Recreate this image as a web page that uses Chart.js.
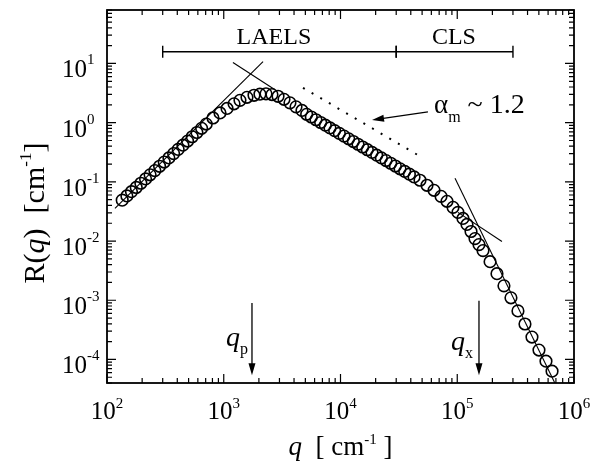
<!DOCTYPE html>
<html lang="en">
<head>
<meta charset="UTF-8">
<title>R(q) vs q</title>
<script src="https://cdn.jsdelivr.net/npm/chart.js"></script>
<style>
  body { margin: 0; background: #fff; }
</style>
</head>
<body>
<canvas id="chart" width="603" height="464"></canvas>
<script>
// measured points, q in cm^-1, R(q) in cm^-1
const qValues = [135, 148, 162, 178, 195, 214, 234, 257, 282, 309, 339, 372, 407, 447, 490, 537, 589, 646, 708,
  809, 929, 1067, 1225, 1377, 1581, 1816, 2042, 2301, 2588, 2917, 3281, 3690, 4159, 4677,
  5129, 5623, 6166, 6761, 7413, 8128, 8913, 9772, 10715, 11749, 12882, 14125, 15488, 16982, 18621, 20417, 22387, 24547, 26915, 29512, 32359, 35481, 38905, 42658,
  47970, 55080, 63240, 72610, 81700, 92000, 101400, 111900, 121200, 131200, 141900, 153500, 166200,
  191000, 218900, 251200, 288400, 331100, 380200, 436500, 501200, 575400, 648600];
const rValues = [0.0491, 0.0578, 0.0682, 0.0804, 0.0947, 0.1120, 0.1315, 0.1549, 0.1832, 0.2159, 0.2535, 0.2999, 0.3533, 0.4165, 0.4887, 0.578, 0.682, 0.803, 0.947,
  1.20, 1.46, 1.74, 2.08, 2.38, 2.68, 2.90, 3.03, 3.07, 2.98, 2.79, 2.48, 2.16, 1.85, 1.61,
  1.384, 1.245, 1.119, 1.007, 0.906, 0.815, 0.733, 0.659, 0.593, 0.533, 0.480, 0.432, 0.388, 0.349, 0.314, 0.282, 0.254, 0.229, 0.206, 0.185, 0.166, 0.150, 0.135, 0.121,
  0.1064, 0.0875, 0.0720, 0.0569, 0.0469, 0.0371, 0.0305, 0.0241, 0.0191, 0.0145, 0.0110, 0.00871, 0.00690,
  0.00448, 0.00281, 0.00175, 0.00110, 0.000661, 0.000397, 0.000239, 0.000144, 0.0000935, 0.0000633];

// guide lines, [q, R] end points
const lowQLine = [[117, 0.0356], [2170, 10.7]];
const peakLine = [[1199, 10.4], [2748, 3.59]];
const slopeLine = [[4775, 3.88], [50930, 0.252]];   // dotted, alpha_m ~ 1.2
const porodLine = [[95700, 0.115], [687000, 3.96e-5]];
const crossLine = [[101400, 0.0305], [241500, 0.00981]];

// ranges at the top
const rangeNames = ['LAELS', 'CLS'];
const rangeLimits = [[300, 3e4], [3e4, 3e5]];
const rangeLevel = 15.8;
const rangeLabelQ = [2690, 93700];
const rangeLabelR = 30;

// arrows
const qpArrow = [[1745, 9e-4], [1745, 5.4e-5]];
const qxArrow = [[153500, 9.8e-4], [153500, 5.4e-5]];
const alphaArrow = [[56100, 1.52], [18620, 1.11]];

// axes
const xTickValues = [1e2, 1e3, 1e4, 1e5, 1e6];
const xTickPowers = ['2', '3', '4', '5', '6'];
const yTickValues = [1e-4, 1e-3, 1e-2, 1e-1, 1e0, 1e1];
const yTickPowers = ['-4', '-3', '-2', '-1', '0', '1'];

const SERIF = '"Liberation Serif", "Times New Roman", serif';

function pts(pairs) {
  return pairs.map(p => ({x: p[0], y: p[1]}));
}

function guide(pairs, dash) {
  return {
    data: pts(pairs), showLine: true, pointRadius: 0,
    borderColor: '#000', borderWidth: dash ? 2 : 1.1,
    borderDash: dash || [], fill: false
  };
}

// draws pieces of text one after another: [text, font, dy]
function drawRuns(ctx, runs, x, y, align) {
  let total = 0;
  runs.forEach(r => { ctx.font = r[1]; total += ctx.measureText(r[0]).width; });
  let cx = align === 'center' ? x - total / 2 : (align === 'right' ? x - total : x);
  runs.forEach(r => {
    ctx.font = r[1];
    ctx.fillText(r[0], cx, y + (r[2] || 0));
    cx += ctx.measureText(r[0]).width;
  });
}

function arrow(ctx, x1, y1, x2, y2) {
  const ang = Math.atan2(y2 - y1, x2 - x1);
  const len = 12, half = 3.5;
  ctx.beginPath();
  ctx.moveTo(x1, y1);
  ctx.lineTo(x2 - Math.cos(ang) * len * 0.8, y2 - Math.sin(ang) * len * 0.8);
  ctx.stroke();
  ctx.beginPath();
  ctx.moveTo(x2, y2);
  ctx.lineTo(x2 - Math.cos(ang) * len - Math.sin(ang) * half, y2 - Math.sin(ang) * len + Math.cos(ang) * half);
  ctx.lineTo(x2 - Math.cos(ang) * len + Math.sin(ang) * half, y2 - Math.sin(ang) * len - Math.cos(ang) * half);
  ctx.closePath();
  ctx.fill();
}

const decorations = {
  id: 'decorations',
  afterDraw(chart) {
    const {ctx, chartArea: a} = chart;
    const xs = chart.scales.x, ys = chart.scales.y;
    const X = v => xs.getPixelForValue(v), Y = v => ys.getPixelForValue(v);
    ctx.save();
    ctx.strokeStyle = '#000';
    ctx.fillStyle = '#000';

    // frame
    ctx.lineWidth = 1.8;
    ctx.strokeRect(a.left, a.top, a.right - a.left, a.bottom - a.top);

    // inward ticks on all four sides
    ctx.lineWidth = 1.2;
    ctx.beginPath();
    for (let e = 2; e <= 6; e++) {
      for (let m = 1; m <= 9; m++) {
        const v = m * Math.pow(10, e);
        if (v > xs.max * 1.0001) break;
        const px = X(v), len = m === 1 ? 9 : 5;
        ctx.moveTo(px, a.bottom); ctx.lineTo(px, a.bottom - len);
        ctx.moveTo(px, a.top); ctx.lineTo(px, a.top + len);
      }
    }
    for (let e = -5; e <= 1; e++) {
      for (let m = 1; m <= 9; m++) {
        const v = m * Math.pow(10, e);
        if (v < ys.min || v > ys.max) continue;
        const py = Y(v), len = m === 1 ? 9 : 5;
        ctx.moveTo(a.left, py); ctx.lineTo(a.left + len, py);
        ctx.moveTo(a.right, py); ctx.lineTo(a.right - len, py);
      }
    }
    ctx.stroke();

    // tick labels
    ctx.textBaseline = 'alphabetic';
    const big = '25px ' + SERIF, sup = '15px ' + SERIF;
    xTickValues.forEach((v, i) => {
      drawRuns(ctx, [['10', big], [xTickPowers[i], sup, -11]], X(v), a.bottom + 36, 'center');
    });
    yTickValues.forEach((v, i) => {
      drawRuns(ctx, [['10', big], [yTickPowers[i], sup, -13]], 62, Y(v) + 14, 'left');
    });

    // axis titles
    drawRuns(ctx, [['q', 'italic 27px ' + SERIF], ['  [ cm', '27px ' + SERIF], ['-1', '15px ' + SERIF, -11], [' ]', '27px ' + SERIF]],
      (a.left + a.right) / 2, 455, 'center');
    ctx.save();
    ctx.translate(44, 213);
    ctx.rotate(-Math.PI / 2);
    drawRuns(ctx, [['R(', '30px ' + SERIF], ['q', 'italic 30px ' + SERIF], [')  [cm', '30px ' + SERIF], ['-1', '17px ' + SERIF, -13], [']', '30px ' + SERIF]],
      0, 0, 'center');
    ctx.restore();

    // range bars
    ctx.lineWidth = 1.4;
    rangeLimits.forEach((lim, i) => {
      const y0 = Y(rangeLevel), x1 = X(lim[0]), x2 = X(lim[1]);
      ctx.beginPath();
      ctx.moveTo(x1, y0); ctx.lineTo(x2, y0);
      ctx.moveTo(x1, y0 - 6); ctx.lineTo(x1, y0 + 6);
      ctx.moveTo(x2, y0 - 6); ctx.lineTo(x2, y0 + 6);
      ctx.stroke();
      drawRuns(ctx, [[rangeNames[i], '24px ' + SERIF]], X(rangeLabelQ[i]), Y(rangeLabelR) + 9, 'center');
    });

    // arrows and their labels
    ctx.lineWidth = 1.3;
    [qpArrow, qxArrow, alphaArrow].forEach(ar => {
      arrow(ctx, X(ar[0][0]), Y(ar[0][1]), X(ar[1][0]), Y(ar[1][1]));
    });
    drawRuns(ctx, [['q', 'italic 28px ' + SERIF], ['p', '16px ' + SERIF, 8]], X(qpArrow[0][0]) - 4, 346, 'right');
    drawRuns(ctx, [['q', 'italic 28px ' + SERIF], ['x', '16px ' + SERIF, 8]], X(qxArrow[0][0]) - 6, 350, 'right');
    drawRuns(ctx, [['α', '27px ' + SERIF], ['m', '16px ' + SERIF, 9], [' ~ 1.2', '28px ' + SERIF]], 434, 113, 'left');

    ctx.restore();
  }
};

new Chart(document.getElementById('chart'), {
  type: 'scatter',
  data: {
    datasets: [
      {
        data: qValues.map((q, i) => ({x: q, y: rValues[i]})),
        pointStyle: 'circle', pointRadius: 5.8,
        borderColor: '#000', borderWidth: 1.6,
        backgroundColor: 'rgba(255,255,255,0)'
      },
      guide(lowQLine),
      guide(peakLine),
      guide(slopeLine, [2, 8]),
      guide(porodLine),
      guide(crossLine)
    ]
  },
  options: {
    responsive: false,
    animation: false,
    events: [],
    layout: { padding: { left: 107, right: 29, top: 10, bottom: 81 } },
    scales: {
      x: { type: 'logarithmic', min: 100, max: 1e6, display: false },
      y: { type: 'logarithmic', min: 4e-5, max: 80, display: false }
    },
    plugins: { legend: { display: false }, tooltip: { enabled: false } }
  },
  plugins: [decorations]
});
</script>
</body>
</html>
